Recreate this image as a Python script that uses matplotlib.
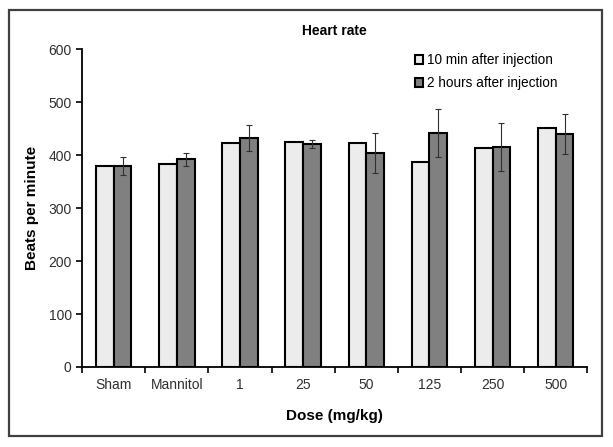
import numpy as np
import matplotlib.pyplot as plt
from matplotlib.patches import Rectangle

plt.rcParams['font.family'] = ['Liberation Sans', 'DejaVu Sans']

# 数据
doses = ['Sham', 'Mannitol', '1', '25', '50', '125', '250', '500']
hr_10min = [379, 383, 423, 425, 423, 387, 413, 451]
hr_2h = [379, 392, 432, 421, 404, 442, 415, 440]
err_2h = [17, 12, 25, 7, 38, 45, 45, 37]

fig = plt.figure(figsize=(6.13, 4.47), dpi=100)
ax = fig.add_axes([0.134, 0.179, 0.824, 0.711])

# 外框
fig.patches.append(Rectangle((0.015, 0.025), 0.967, 0.952, transform=fig.transFigure,
                             fill=False, edgecolor='#404040', linewidth=1.6))

x = np.arange(len(doses))
w = 0.28
ax.bar(x - w / 2, hr_10min, w, color='#ececec', edgecolor='black', linewidth=1.5,
       label='10 min after injection')
ax.bar(x + w / 2, hr_2h, w, color='#808080', edgecolor='black', linewidth=1.5,
       label='2 hours after injection')
ax.errorbar(x + w / 2, hr_2h, yerr=err_2h, fmt='none', ecolor='#303030',
            elinewidth=0.8, capsize=2, capthick=0.8)

ax.set_xlim(-0.5, len(doses) - 0.5)
ax.set_ylim(0, 600)
ax.set_yticks(range(0, 601, 100))
ax.set_xticks(np.arange(len(doses) + 1) - 0.5)
ax.set_xticklabels([])
ax.set_xticks(x, minor=True)
ax.set_xticklabels(doses, minor=True)
ax.tick_params(axis='x', which='minor', length=0, pad=8, labelsize=10, labelcolor='#303030')
ax.tick_params(axis='x', which='major', length=4, width=1.2, direction='out')
ax.tick_params(axis='y', length=4, width=1.2, labelsize=10, labelcolor='#303030')

for s in ['top', 'right']:
    ax.spines[s].set_visible(False)
for s in ['left', 'bottom']:
    ax.spines[s].set_linewidth(1.3)

ax.set_title('Heart rate', fontsize=10, fontweight='bold', pad=10)
ax.set_xlabel('Dose (mg/kg)', fontsize=11, fontweight='bold', labelpad=12)
ax.set_ylabel('Beats per minute', fontsize=11, fontweight='bold', labelpad=7)

ax.legend(loc='upper right', bbox_to_anchor=(0.965, 1.025), frameon=False, fontsize=9.8,
          handlelength=0.6, handleheight=0.6, handletextpad=0.3, labelspacing=0.65)

plt.savefig('out.png', dpi=100)
plt.close()
